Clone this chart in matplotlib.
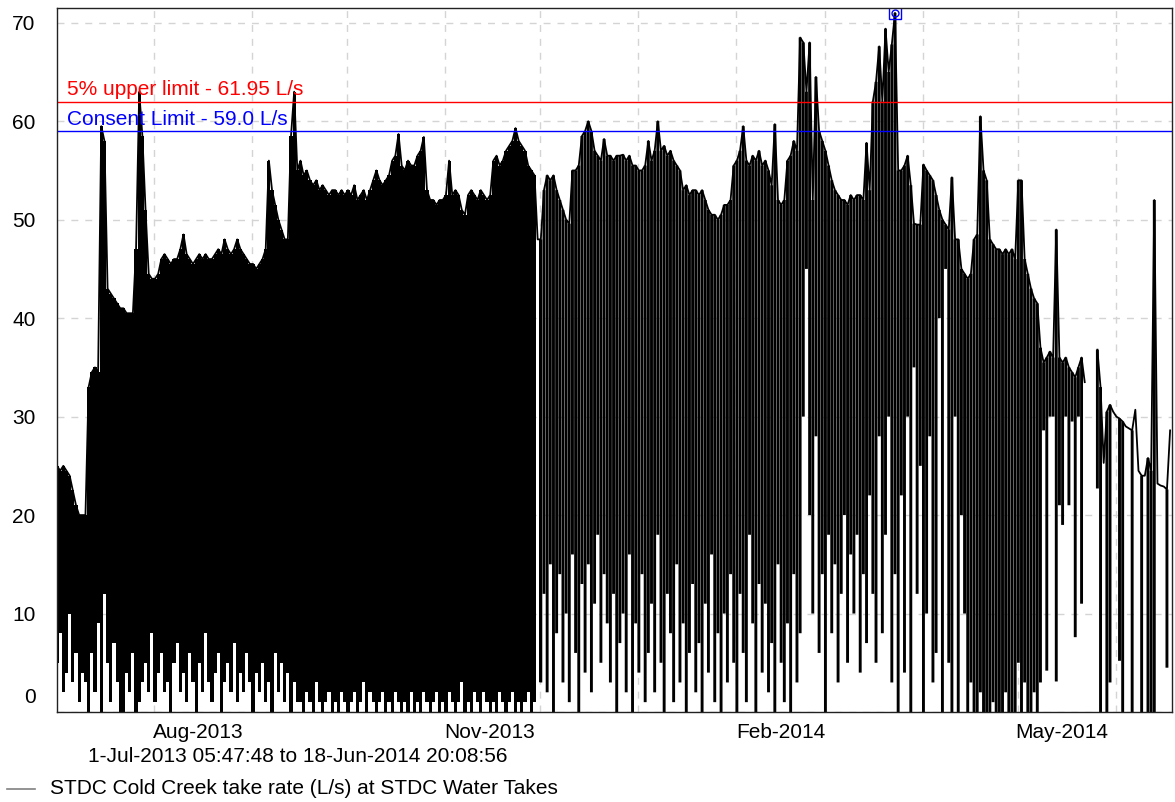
import matplotlib
matplotlib.use("Agg")
import matplotlib.pyplot as plt
import matplotlib.dates as mdates
from matplotlib.lines import Line2D
from datetime import datetime, timedelta

plt.rcParams['font.family'] = ['Liberation Sans', 'DejaVu Sans']
plt.rcParams['font.size'] = 15

nan = float('nan')

start = datetime(2013, 7, 1, 5, 47, 48)
end = datetime(2014, 6, 18, 20, 8, 56)

# daily peak take rate (L/s), one row per week starting 1-Jul-2013
day_hi = [
    25, 24.5, 25, 24.5, 24, 22.5, 21,
    20, 20, 20, 33, 34.5, 35, 34.5,
    59.5, 58, 43, 42.5, 42, 41.5, 41,
    41, 40.5, 40.5, 40.5, 47, 63, 58.5,
    51, 44.5, 44, 44, 44.5, 46, 46.5,
    46, 45.5, 46, 46, 47, 48.5, 46.5,
    46, 45.5, 46, 46.5, 46, 46.5, 46,
    46, 46.5, 47, 46.5, 48, 47, 46.5,
    47, 48, 47, 46.5, 46, 45.5, 45.5,
    45, 45.5, 46, 47, 56, 53, 51.5,
    50, 49, 48, 48, 58.5, 63, 55,
    56, 54.5, 55, 54, 53.5, 54, 53,
    53.5, 53, 52.5, 53, 53, 52.5, 53,
    52.5, 53, 52.5, 53.5, 52, 52.5, 53,
    52, 53, 54, 55, 54, 53.5, 54,
    54.5, 56, 56.5, 58.7, 55.5, 55, 56,
    55.5, 55.5, 56.5, 57, 58.4, 53, 52,
    52, 51.5, 52, 52, 52.5, 56, 52.5,
    53, 52.5, 51, 50.5, 52.5, 53, 52.5,
    52, 53, 52.5, 52, 52.5, 56, 56.5,
    55.5, 56, 57, 57.5, 58, 59.3, 58,
    57.5, 57, 55.5, 55, 54.5, 48, 48,
    53, 54.5, 54, 54.5, 53, 52, 51,
    50, 49.6, 55, 55, 55.5, 58.5, 59,
    60, 59, 57, 56.5, 56, 58.2, 56.5,
    56.5, 56, 56.5, 56.5, 56.6, 56, 56.5,
    55.5, 55.5, 55, 55, 55.5, 58, 56,
    57, 60, 57, 57.5, 56.5, 57, 56,
    55.5, 55, 53, 53.5, 52.5, 53, 53,
    52.5, 53, 52, 51, 50.5, 50.5, 50,
    50.5, 51.5, 51.5, 52, 55.5, 56, 57,
    59.5, 56, 55.5, 56.5, 56, 57, 55.5,
    56, 55, 53.5, 59.7, 52, 51.5, 52,
    56, 56.5, 58, 57, 68.5, 68, 63,
    68, 52, 64.5, 59, 58, 57, 55.5,
    54, 53, 52.5, 52, 52, 51.5, 52.5,
    52, 52.5, 52.5, 52, 57.8, 53, 62,
    64, 67.6, 62, 69.4, 65, 67.8, 71,
    55, 55, 55.5, 56.5, 53.5, 49.6, 49.5,
    49.5, 55.6, 55, 54.5, 54, 52.5, 51,
    50, 49.5, 49, 54.3, 48, 48, 45,
    44.5, 44, 44.5, 48, 48.5, 60.5, 55,
    54, 48, 47.5, 47, 47, 46.5, 47,
    46.5, 47, 46, 54, 54, 46, 44.5,
    43, 42, 41.5, 37, 35.5, 36, 36.6,
    36, 49, 36, 35.5, 36, 35, 34.5,
    34, 35, 36, 33.5, nan, nan, nan,
    36.8, 33, 25.3, 30.5, 31.2, 30.5, 30,
    29.8, 29.5, 29, 28.8, 28.6, 30.7, 24.5,
    24, 24, 25.8, 24.5, 52, 23.2, 23,
    22.9, 22.6, 28.6,
]

# lowest take rate reached during each day, None = no drop that day
day_lo = [
    5, 8, 2, 4, 10, 3, 6,
    1, 4, 3, 0, 6, 2, 9,
    0, 12, 5, 1, 7, 3, 0,
    0, 4, 2, 6, 0, 1, 3,
    5, 2, 8, 1, 4, 6, 2,
    3, 0, 5, 7, 2, 4, 1,
    6, 3, 0, 5, 2, 8, 3,
    1, 4, 6, 0, 3, 5, 2,
    7, 1, 4, 2, 6, 3, 0,
    4, 2, 5, 1, 3, 0, 6,
    2, 5, 1, 4, 0, 3, 1,
    1, 0, 2, 1, 0, 3, 1,
    0, 1, 2, 0, 1, 0, 2,
    1, 0, 1, 2, 0, 1, 3,
    0, 2, 1, 0, 1, 2, 0,
    1, 0, 2, 1, 0, 1, 0,
    2, 0, 1, 0, 2, 1, 0,
    1, 2, 0, 1, 0, 2, 1,
    0, 1, 3, 0, 1, 0, 2,
    1, 0, 2, 1, 0, 1, 0,
    2, 1, 0, 1, 2, 0, 1,
    0, 1, 2, 0, 1, None, 3,
    12, 2, 15, 0, 8, 14, 3,
    10, 1, 16, 6, 0, 13, 4,
    15, 2, 11, 18, 5, 14, 9,
    3, 12, 0, 7, 10, 2, 16,
    0, 9, 4, 14, 1, 6, 11,
    2, 18, 5, 0, 12, 8, 1,
    15, 3, 9, 0, 6, 13, 2,
    7, 0, 11, 4, 16, 1, 8,
    0, 10, 3, 14, 5, 0, 12,
    6, 1, 18, 9, 0, 13, 4,
    11, 2, 7, 0, 15, 5, 1,
    9, 0, 14, 3, 8, 30, 45,
    20, 10, 28, 6, 14, 0, 18,
    8, 15, 3, 12, 20, 5, 16,
    10, 18, 4, 14, 7, 22, 12,
    5, 28, 8, 18, 30, 3, 14,
    0, 22, 4, 30, 0, 35, 12,
    25, 0, 10, 28, 3, 6, 40,
    0, 45, 5, 0, 30, 0, 20,
    10, 0, 3, 0, 0, 2, 0,
    0, 0, 1, 0, 0, 0, 2,
    0, 0, 0, 5, 0, 3, 0,
    0, 2, 0, 3, 28.6, 4.2, 30,
    30, 3.1, 21, 19, 30, 21, 29.5,
    7.6, 30, 11, None, nan, nan, nan,
    22.7, 0, None, 0, 3, None, None,
    5.2, 0, None, None, 0, None, None,
    0, None, 0, 0, 0, None, None,
    None, 4.5, None,
]

consent_limit = 59.0
upper_limit = 61.95

# up to end of November the pump cycles run so close together that the days
# merge into one solid band; after that each day is drawn as its own stroke
split = 153

times = [start + timedelta(days=d) for d in range(len(day_hi))]
lows = [hi if lo is None else lo for hi, lo in zip(day_hi, day_lo)]
spans = [hi - lo for hi, lo in zip(day_hi, lows)]

fig = plt.figure(figsize=(11.75, 8.02), dpi=100)
ax = fig.add_axes([57 / 1175, 1 - 712 / 802, 1115 / 1175, 704 / 802])

ax.fill_between(times[:split + 1], lows[:split + 1], day_hi[:split + 1],
                step='mid', color='black', lw=0)
ax.bar(times[split:], spans[split:], bottom=lows[split:], width=timedelta(hours=22),
       color='black', lw=0, snap=False)
ax.plot(times, day_hi, color='black', lw=1.3)

ax.axhline(upper_limit, color='#ff0000', lw=1)
ax.axhline(consent_limit, color='#0000ff', lw=1)
ax.text(0.009, upper_limit + 0.7, f'5% upper limit - {upper_limit:.2f} L/s',
        color='#ff0000', transform=ax.get_yaxis_transform(), va='baseline', ha='left')
ax.text(0.009, consent_limit + 0.6, f'Consent Limit - {consent_limit:.1f} L/s',
        color='#0000ff', transform=ax.get_yaxis_transform(), va='baseline', ha='left')

# maximum value marker
imax = max(range(len(day_hi)), key=lambda i: day_hi[i] if day_hi[i] == day_hi[i] else -1)
ax.plot(times[imax], day_hi[imax], marker='s', ms=8, mfc='none', mec='#0000ff', mew=1)
ax.plot(times[imax], day_hi[imax], marker='o', ms=5, mfc='none', mec='#0000ff', mew=1)

ax.set_xlim(start, end)
ax.set_ylim(0, 71.5)
ax.set_yticks(range(0, 80, 10))
ax.set_yticklabels([''] + [str(v) for v in range(10, 80, 10)])
ax.annotate('0', xy=(0, 0), xycoords=('axes fraction', 'data'), xytext=(-15.5, 10.5),
            textcoords='offset points', ha='right', va='center')

ax.xaxis.set_major_locator(mdates.MonthLocator(bymonth=[2, 5, 8, 11], bymonthday=15))
ax.xaxis.set_major_formatter(mdates.DateFormatter('%b-%Y'))
ax.xaxis.set_minor_locator(mdates.MonthLocator())
ax.tick_params(axis='both', which='both', length=0)
ax.tick_params(axis='y', pad=15.5)
ax.tick_params(axis='x', pad=8)

ax.grid(which='minor', axis='x', color='#d4d4d4', ls=(0, (5, 5)), lw=1)
ax.grid(which='major', axis='y', color='#d4d4d4', ls=(0, (5, 5)), lw=1)
ax.set_axisbelow(True)
for s in ax.spines.values():
    s.set_color('#222222')
    s.set_linewidth(1)

fig.text(88 / 1175, 1 - 757 / 802, '1-Jul-2013 05:47:48 to 18-Jun-2014 20:08:56',
         ha='left', va='center')
fig.add_artist(Line2D([7 / 1175, 35 / 1175], [1 - 789 / 802, 1 - 789 / 802],
                      color='#808080', lw=1.2))
fig.text(50 / 1175, 1 - 789 / 802, 'STDC Cold Creek take rate (L/s) at STDC Water Takes',
         ha='left', va='center')

fig.savefig('out.png', dpi=100)
